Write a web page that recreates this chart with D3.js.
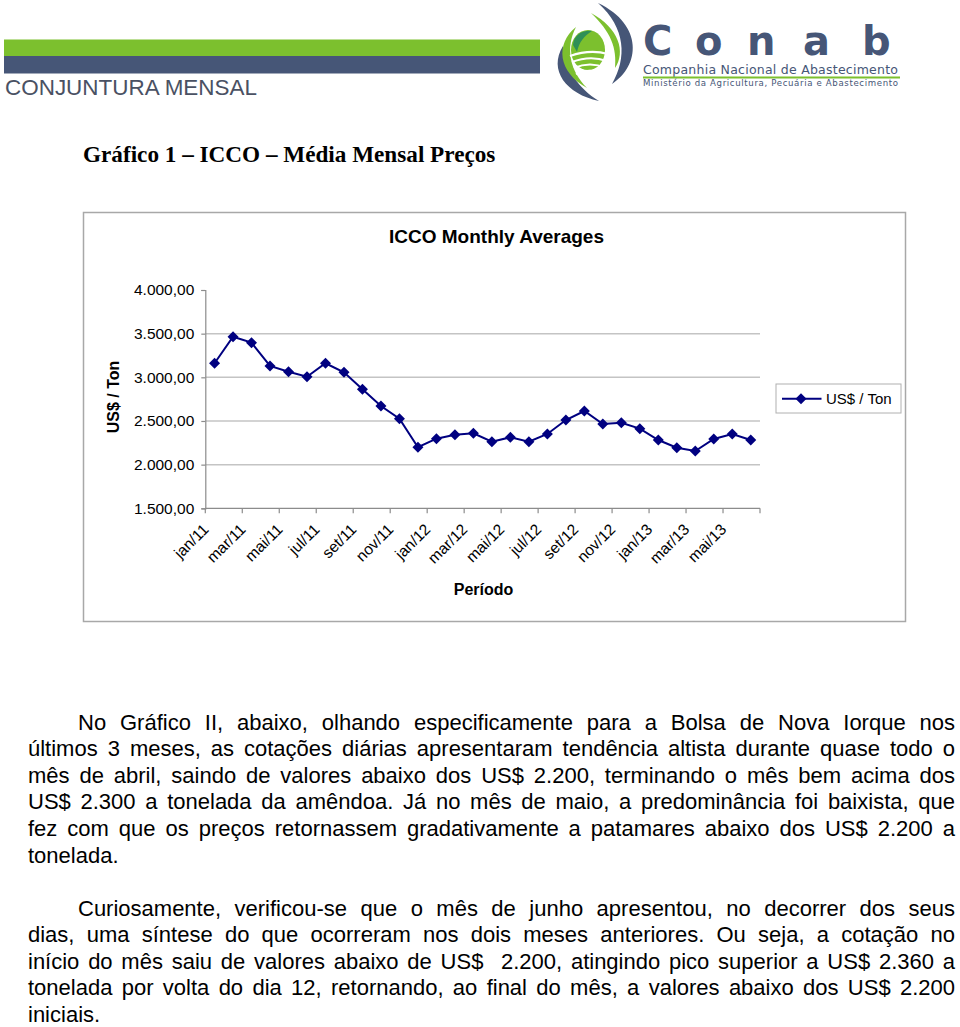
<!DOCTYPE html>
<html><head><meta charset="utf-8">
<script src="https://cdn.jsdelivr.net/npm/d3@7"></script>
<style>body{margin:0;background:#fff}svg{display:block}</style>
</head><body><svg id="c" width="960" height="1027"></svg>
<script>
// ---------- data ----------
const months = ["jan/11","fev/11","mar/11","abr/11","mai/11","jun/11","jul/11","ago/11","set/11","out/11","nov/11","dez/11",
  "jan/12","fev/12","mar/12","abr/12","mai/12","jun/12","jul/12","ago/12","set/12","out/12","nov/12","dez/12",
  "jan/13","fev/13","mar/13","abr/13","mai/13","jun/13"];
const prices = [3161,3465,3397,3130,3064,3007,3161,3057,2863,2672,2526,2199,
  2297,2343,2359,2263,2313,2263,2351,2511,2614,2465,2480,2412,
  2282,2194,2156,2294,2351,2282];
const yTicks = [1500,2000,2500,3000,3500,4000];
const gridValues = [2000,2500,3000,3500];
const xLabels = ["jan/11","mar/11","mai/11","jul/11","set/11","nov/11","jan/12","mar/12","mai/12","jul/12","set/12","nov/12","jan/13","mar/13","mai/13"];
const seriesName = "US$ / Ton";
const chartTitle = "ICCO Monthly Averages";
const xTitle = "Período";
const yTitle = "US$ / Ton";
const pageTitle = "Gráfico 1 – ICCO – Média Mensal Preços";
const paragraph1 = [
  "No Gráfico II, abaixo, olhando especificamente para a Bolsa de Nova Iorque nos",
  "últimos 3 meses, as cotações diárias apresentaram tendência altista durante quase todo o",
  "mês de abril, saindo de valores abaixo dos US$ 2.200, terminando o mês bem acima dos",
  "US$ 2.300 a tonelada da amêndoa. Já no mês de maio, a predominância foi baixista, que",
  "fez com que os preços retornassem gradativamente a patamares abaixo dos US$ 2.200 a",
  "tonelada."
];
const paragraph2 = [
  "Curiosamente, verificou-se que o mês de junho apresentou, no decorrer dos seus",
  "dias, uma síntese do que ocorreram nos dois meses anteriores. Ou seja, a cotação no",
  "início do mês saiu de valores abaixo de US$  2.200, atingindo pico superior a US$ 2.360 a",
  "tonelada por volta do dia 12, retornando, ao final do mês, a valores abaixo dos US$ 2.200",
  "iniciais."
];

// ---------- setup ----------
const svg = d3.select("#c");
const BLUE = "#465677", GREEN = "#7cc02e", NAVY = "#000080";

// header bars
svg.append("rect").attr("x",4).attr("y",39.5).attr("width",536).attr("height",16.5).attr("fill",GREEN);
svg.append("rect").attr("x",4).attr("y",56).attr("width",536).attr("height",17.5).attr("fill",BLUE);
svg.append("text").attr("x",5).attr("y",95).attr("font-family","Liberation Sans, Arial, sans-serif")
  .attr("font-size",21.5).attr("fill","#4a5163").attr("textLength",252).attr("lengthAdjust","spacingAndGlyphs")
  .text("CONJUNTURA MENSAL");

// logo
const logo = svg.append("g");
logo.append("path").attr("d","M598,3 C644,25 640,66 612,84 C627,58 626,28 598,3 Z").attr("fill",BLUE);
logo.append("path").attr("d","M591,13 C619,28 626,52 615,68 C617,48 611,32 591,13 Z").attr("fill",GREEN);
logo.append("path").attr("d","M563,46 C548,70 566,94 599,101 C578,88 566,70 563,46 Z").attr("fill",BLUE);
logo.append("path").attr("d","M576,27 C555,44 558,72 587,88 C570,71 565,48 576,27 Z").attr("fill",GREEN);
logo.append("ellipse").attr("cx",588).attr("cy",50).attr("rx",17).attr("ry",20).attr("fill",GREEN);
logo.append("path").attr("d","M573,45 C574,35 582,30 592,31 C584,36 579,42 577,52 Z").attr("fill","#2f8f57");
[[56,0],[62,1],[68,2],[74,3]].forEach(([yy,k])=>{
  logo.append("path").attr("d",`M${570+k*2},${yy} Q${590},${yy-7} ${608-k},${yy-2+k}`)
    .attr("fill","none").attr("stroke","#fff").attr("stroke-width",2.2);
});
const logoLetters = [["C",643],["o",695],["n",747],["a",803],["b",862]];
logoLetters.forEach(([ch,xx])=>{
  logo.append("text").attr("x",xx).attr("y",55).attr("font-family","DejaVu Sans, sans-serif")
    .attr("font-weight","bold").attr("font-size",40).attr("fill",BLUE).text(ch);
});
logo.append("text").attr("x",643).attr("y",73.5).attr("font-family","DejaVu Sans, sans-serif")
  .attr("font-size",12.5).attr("fill",BLUE).attr("textLength",255).attr("lengthAdjust","spacing")
  .text("Companhia Nacional de Abastecimento");
logo.append("line").attr("x1",643).attr("x2",900).attr("y1",77.5).attr("y2",77.5)
  .attr("stroke",GREEN).attr("stroke-width",2);
logo.append("text").attr("x",643).attr("y",86).attr("font-family","DejaVu Sans, sans-serif")
  .attr("font-size",8.6).attr("fill",BLUE).attr("textLength",255).attr("lengthAdjust","spacing")
  .text("Ministério da Agricultura, Pecuária e Abastecimento");

// page title
svg.append("text").attr("x",83).attr("y",162).attr("font-family","Liberation Serif, Times New Roman, serif")
  .attr("font-weight","bold").attr("font-size",23.2).attr("fill","#000").text(pageTitle);

// ---------- chart ----------
svg.append("rect").attr("x",83.5).attr("y",212.5).attr("width",822).attr("height",409)
  .attr("fill","#fff").attr("stroke","#a8a8a8").attr("stroke-width",1.5);

const plot = {left:205.3, right:760, top:290, bottom:508.3};
const x = d3.scaleBand().domain(months).range([plot.left, plot.right]).paddingInner(0).paddingOuter(0);
const y = d3.scaleLinear().domain([1500,4000]).range([plot.bottom, plot.top]);
const loc = d3.formatLocale({decimal:",", thousands:".", grouping:[3], currency:["",""]});
const fmt = loc.format(",.2f");
const cx = m => x(m) + x.bandwidth()/2;

svg.append("text").attr("x",496.5).attr("y",243.3).attr("text-anchor","middle")
  .attr("font-family","Liberation Sans, Arial, sans-serif").attr("font-weight","bold").attr("font-size",19)
  .text(chartTitle);

// gridlines
svg.append("g").selectAll("line").data(gridValues).join("line")
  .attr("x1",plot.left).attr("x2",plot.right).attr("y1",d=>y(d)).attr("y2",d=>y(d))
  .attr("stroke","#c4c4c4").attr("stroke-width",1.5);

// y axis
const yAxis = svg.append("g").attr("transform",`translate(${plot.left},0)`)
  .call(d3.axisLeft(y).tickValues(yTicks).tickFormat(fmt).tickSize(4).tickPadding(7));
yAxis.select(".domain").attr("stroke","#8c8c8c").attr("stroke-width",1.2);
yAxis.selectAll(".tick line").attr("stroke","#8c8c8c").attr("stroke-width",1.2);
yAxis.selectAll(".tick text").attr("font-family","Liberation Sans, Arial, sans-serif").attr("font-size",15.5).attr("fill","#000");

// x axis
const xg = svg.append("g");
xg.append("line").attr("x1",plot.left).attr("x2",plot.right).attr("y1",plot.bottom).attr("y2",plot.bottom)
  .attr("stroke","#8c8c8c").attr("stroke-width",1.2);
const tickCats = months.filter((m,i)=>i%2===0);
xg.selectAll("line.tk").data(tickCats).join("line").attr("class","tk")
  .attr("x1",d=>x(d)).attr("x2",d=>x(d)).attr("y1",plot.bottom).attr("y2",plot.bottom+5)
  .attr("stroke","#8c8c8c").attr("stroke-width",1.2);
xg.append("line").attr("x1",plot.right).attr("x2",plot.right).attr("y1",plot.bottom).attr("y2",plot.bottom+5)
  .attr("stroke","#8c8c8c").attr("stroke-width",1.2);
xg.selectAll("text").data(xLabels).join("text")
  .attr("transform",d=>`translate(${cx(d)-5},${plot.bottom+22}) rotate(-45)`)
  .attr("text-anchor","end").attr("font-family","Liberation Sans, Arial, sans-serif").attr("font-size",15.5)
  .text(d=>d);

// axis titles
svg.append("text").attr("x",483.5).attr("y",595).attr("text-anchor","middle")
  .attr("font-family","Liberation Sans, Arial, sans-serif").attr("font-weight","bold").attr("font-size",16).text(xTitle);
svg.append("text").attr("transform","translate(119,397) rotate(-90)").attr("text-anchor","middle")
  .attr("font-family","Liberation Sans, Arial, sans-serif").attr("font-weight","bold").attr("font-size",16).text(yTitle);

// series
const diamond = (s)=>`M0,${-s}L${s},0L0,${s}L${-s},0Z`;
svg.append("path").datum(prices).attr("fill","none").attr("stroke",NAVY).attr("stroke-width",2)
  .attr("d",d3.line().x((d,i)=>cx(months[i])).y(d=>y(d)));
svg.append("g").selectAll("path").data(prices).join("path")
  .attr("transform",(d,i)=>`translate(${cx(months[i])},${y(d)})`).attr("d",diamond(5.5)).attr("fill",NAVY);

// legend
const lg = svg.append("g");
lg.append("rect").attr("x",776).attr("y",384).attr("width",125).attr("height",29)
  .attr("fill","#fff").attr("stroke","#b0b0b0").attr("stroke-width",1);
lg.append("line").attr("x1",782).attr("x2",821.5).attr("y1",398.8).attr("y2",398.8).attr("stroke",NAVY).attr("stroke-width",2);
lg.append("path").attr("transform","translate(801,398.8)").attr("d",diamond(5.5)).attr("fill",NAVY);
lg.append("text").attr("x",826).attr("y",404).attr("font-family","Liberation Sans, Arial, sans-serif")
  .attr("font-size",15).text(seriesName);

// ---------- body text ----------
const bodyFont = {family:"Liberation Sans, Arial, sans-serif", size:22};
const L = 28, R = 955, indent = 78, lh = 26.6;
function para(lines, y0){
  lines.forEach((ln,i)=>{
    const xs = i===0 ? indent : L;
    const t = svg.append("text").attr("x",xs).attr("y",y0+i*lh)
      .attr("font-family",bodyFont.family).attr("font-size",bodyFont.size).attr("fill","#000")
      .attr("xml:space","preserve").style("white-space","pre").text(ln);
    if(i < lines.length-1){
      const w = t.node().getComputedTextLength();
      const n = (ln.match(/ /g)||[]).length;
      if(n>0) t.attr("word-spacing", (R-xs-w)/n);
    }
  });
}
para(paragraph1, 729.5);
para(paragraph2, 915.5);
</script></body></html>
